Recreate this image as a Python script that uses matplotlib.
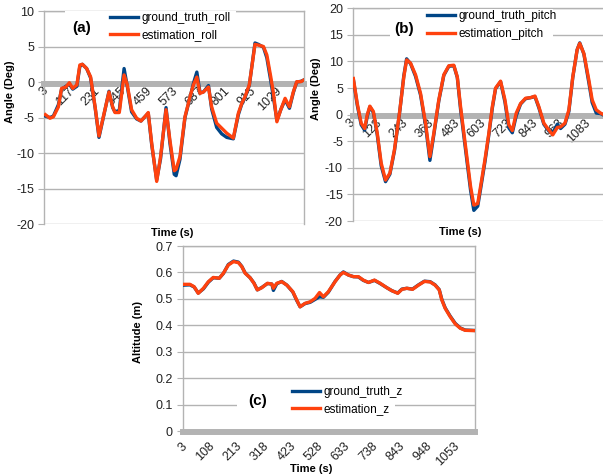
import matplotlib
matplotlib.use("Agg")
import matplotlib.pyplot as plt
from matplotlib.patches import Rectangle

plt.rcParams["font.family"] = ["Liberation Sans", "DejaVu Sans"]

BLUE = "#004586"
ORANGE = "#ff420e"
GRID = "#b3b3b3"

# ---- roll (a)
t_roll = [0, 20, 35, 57, 71, 90, 105, 120, 138, 151, 162, 181, 198, 218, 235, 254,
          279, 295, 305, 324, 345, 359, 378, 400, 419, 436, 451, 466, 488, 505, 529,
          546, 565, 573, 590, 612, 634, 649, 664, 678, 693, 715, 729, 751, 773, 795,
          824, 846, 861, 875, 894, 919, 934, 956, 971, 988, 1000, 1015, 1032, 1051,
          1070, 1087, 1102, 1120, 1134]
roll_est = [-4.6, -5.1, -4.9, -3.5, -0.9, -0.7, -0.1, -0.9, -0.4, 2.4, 2.5, 1.9, 0.75,
            -3.5, -7.6, -4.9, -1.4, -3.5, -4.3, -4.3, 1.0, -0.4, -3.9, -5.1, -5.5, -4.9,
            -4.3, -8.6, -14.0, -10.5, -3.9, -8.2, -12.5, -12.3, -10.5, -4.9, -2.1, -0.4,
            0.7, -1.6, -1.4, -0.7, -3.5, -5.8, -6.5, -7.2, -7.9, -4.4, -3.0, -2.1, -0.4,
            5.3, 5.2, 5.0, 3.8, 0.75, -1.6, -5.6, -3.9, -2.3, -3.5, -1.4, 0.05, 0.05, 0.3]
roll_gt = [-4.8, -5.0, -4.8, -3.2, -1.0, -0.6, -0.3, -1.0, -0.6, 2.2, 2.5, 1.9, 0.6,
           -3.6, -7.8, -5.0, -1.3, -3.6, -4.2, -4.0, 1.9, -0.6, -4.2, -5.2, -5.5, -4.9,
           -4.4, -8.8, -13.8, -10.8, -3.6, -8.6, -13.0, -13.2, -10.9, -5.0, -2.2, -0.2,
           1.4, -1.5, -1.4, -0.5, -3.8, -6.4, -7.3, -7.8, -8.0, -4.6, -3.1, -2.2, -0.5,
           5.5, 5.3, 4.9, 3.4, 0.2, -2.2, -5.4, -3.9, -2.5, -3.7, -1.5, 0.0, 0.1, 0.3]
roll_ticks = [3, 117, 231, 345, 459, 573, 687, 801, 915, 1029]

# ---- pitch (b)
t_pitch = [2, 20, 38, 54, 66, 78, 94, 112, 130, 150, 170, 191, 216, 234, 247, 265, 288,
           311, 334, 354, 372, 395, 418, 441, 464, 480, 495, 518, 541, 556, 574, 587,
           607, 625, 641, 656, 679, 699, 717, 733, 751, 771, 794, 817, 837, 855, 878,
           901, 919, 940, 955, 975, 993, 1011, 1031, 1043, 1062, 1085, 1100, 1119, 1139,
           1153]
pitch_est = [6.8, 2.1, -1.6, -2.6, 0.0, 1.6, 0.6, -3.5, -9.1, -12.3, -11.0, -6.6, 0.9,
             7.1, 10.3, 9.7, 7.5, 4.0, -1.6, -7.9, -3.5, 2.8, 7.5, 9.2, 9.3, 7.1, 1.5,
             -6.0, -13.5, -17.0, -16.7, -13.5, -8.5, -3.5, 1.5, 5.0, 6.3, 2.8, -1.9, -3.0,
             0.3, 2.1, 3.1, 3.2, 3.5, 1.5, -1.6, -2.9, -3.8, -2.4, -2.3, -1.6, 0.9, 7.1,
             12.2, 13.4, 11.5, 6.5, 2.8, 0.9, 0.3, 0.0]
pitch_gt = [6.6, 1.8, -1.9, -2.9, -0.3, 1.5, 0.4, -3.8, -9.6, -12.6, -11.2, -6.8, 0.8,
            7.3, 10.5, 9.6, 7.2, 3.7, -2.0, -8.6, -3.8, 2.6, 7.4, 9.1, 9.2, 7.0, 1.0,
            -6.6, -14.2, -18.0, -17.2, -14.0, -8.9, -3.8, 1.2, 4.9, 6.2, 2.4, -2.5, -3.4,
            -0.2, 2.0, 3.0, 3.2, 3.4, 1.3, -1.8, -3.1, -3.4, -1.8, -2.6, -1.8, 0.6, 7.0,
            12.2, 13.5, 11.4, 6.0, 2.3, 0.3, 0.2, -0.1]
pitch_ticks = [3, 123, 243, 363, 483, 603, 723, 843, 963, 1083]

# ---- altitude (c)
t_z = [0, 22, 38, 54, 74, 93, 112, 135, 151, 170, 190, 209, 222, 235, 254, 269, 282,
       299, 321, 338, 344, 357, 376, 396, 419, 434, 447, 466, 486, 505, 522, 537, 556,
       582, 601, 614, 634, 653, 672, 691, 711, 734, 756, 782, 801, 824, 840, 859, 881,
       904, 927, 949, 968, 984, 994, 1007, 1026, 1046, 1065, 1084, 1110, 1125]
z_est = [0.555, 0.555, 0.546, 0.521, 0.54, 0.565, 0.581, 0.578, 0.597, 0.628, 0.641,
         0.637, 0.622, 0.597, 0.58, 0.559, 0.534, 0.542, 0.559, 0.556, 0.54, 0.559,
         0.565, 0.552, 0.527, 0.496, 0.47, 0.483, 0.489, 0.502, 0.524, 0.508, 0.527,
         0.565, 0.59, 0.6, 0.59, 0.584, 0.584, 0.571, 0.562, 0.571, 0.559, 0.542, 0.531,
         0.521, 0.536, 0.54, 0.536, 0.552, 0.566, 0.564, 0.552, 0.534, 0.496, 0.464,
         0.433, 0.405, 0.389, 0.381, 0.38, 0.38]
z_gt = [0.552, 0.553, 0.545, 0.522, 0.538, 0.563, 0.58, 0.578, 0.596, 0.63, 0.643,
        0.639, 0.623, 0.598, 0.58, 0.56, 0.534, 0.543, 0.558, 0.556, 0.532, 0.557,
        0.566, 0.552, 0.526, 0.494, 0.47, 0.482, 0.487, 0.498, 0.508, 0.506, 0.525,
        0.566, 0.59, 0.602, 0.59, 0.584, 0.583, 0.57, 0.562, 0.57, 0.558, 0.542, 0.531,
        0.522, 0.537, 0.54, 0.537, 0.553, 0.567, 0.565, 0.553, 0.535, 0.498, 0.466,
        0.435, 0.407, 0.39, 0.382, 0.381, 0.38]
z_ticks = [3, 108, 213, 318, 423, 528, 633, 738, 843, 948, 1053]


def style_axes(ax, xlim, ylim, yticks, ylabels, xticks, spine_y, xpad=4):
    # move the x axis to y=0 first, it resets the ticks
    ax.spines["bottom"].set_position(("data", spine_y))
    ax.spines["bottom"].set_color(GRID)
    ax.spines["bottom"].set_linewidth(4.3)
    for side in ["left", "right", "top"]:
        ax.spines[side].set_color(GRID)
        ax.spines[side].set_linewidth(1)
    ax.set_xlim(*xlim)
    ax.set_ylim(*ylim)
    ax.set_yticks(yticks)
    ax.set_yticklabels(ylabels)
    ax.set_xticks(xticks)
    ax.set_xticklabels([str(v) for v in xticks])
    ax.yaxis.grid(True, color=GRID, linewidth=1)
    ax.set_axisbelow(True)
    ax.tick_params(axis="y", length=4, color=GRID, labelsize=9, pad=3, labelcolor="#222222")
    ax.tick_params(axis="x", length=0, labelsize=9, pad=xpad, labelcolor="#222222")
    for lab in ax.get_xticklabels():
        lab.set_rotation(45)
        lab.set_rotation_mode("anchor")
        lab.set_ha("right")
        lab.set_va("center")


def add_legend(ax, lines, labels, anchor, tag, tag_xy, box):
    ax.add_patch(Rectangle((box[0], box[1]), box[2], box[3], transform=ax.transAxes,
                           facecolor="white", edgecolor="none", zorder=4))
    ax.legend(lines, labels, loc="upper left", bbox_to_anchor=anchor, frameon=False,
              fontsize=8.5, handlelength=2.4, handletextpad=0.25, labelspacing=0.45,
              borderpad=0, borderaxespad=0).set_zorder(5)
    ax.text(tag_xy[0], tag_xy[1], tag, transform=ax.transAxes, fontsize=11,
            fontweight="bold", ha="center", va="center", zorder=6)


fig = plt.figure(figsize=(6.03, 4.75), dpi=100)

# (a)
ax1 = fig.add_axes([0.0730, 0.5284, 0.4312, 0.4484])
l1, = ax1.plot(t_roll, roll_gt, color=BLUE, linewidth=2.4, zorder=3)
l2, = ax1.plot(t_roll, roll_est, color=ORANGE, linewidth=2.4, zorder=3)
style_axes(ax1, (-6, 1134), (-20, 10), range(-20, 11, 5),
           [str(v) for v in range(-20, 11, 5)], roll_ticks, -0.25)
ax1.set_ylabel("Angle (Deg)", fontsize=8, fontweight="bold")
ax1.yaxis.set_label_coords(-0.1115, 0.62)
ax1.set_xlabel("Time (s)", fontsize=8, fontweight="bold")
ax1.xaxis.set_label_coords(0.492, -0.042)
ax1.xaxis.label.set_va("center")
add_legend(ax1, [l1, l2], ["ground_truth_roll", "estimation_roll"],
           (0.254, 0.996), "(a)", (0.145, 0.918), (0.08, 0.85, 0.66, 0.149))

# (b)
ax2 = fig.add_axes([0.5849, 0.5347, 0.418, 0.4478])
l3, = ax2.plot(t_pitch, pitch_gt, color=BLUE, linewidth=2.4, zorder=3)
l4, = ax2.plot(t_pitch, pitch_est, color=ORANGE, linewidth=2.4, zorder=3)
style_axes(ax2, (-1, 1158), (-20, 20), range(-20, 21, 5),
           [str(v) for v in range(-20, 21, 5)], pitch_ticks, -0.2)
ax2.set_ylabel("Angle (Deg)", fontsize=8, fontweight="bold")
ax2.yaxis.set_label_coords(-0.127, 0.62)
ax2.set_xlabel("Time (s)", fontsize=8, fontweight="bold")
ax2.xaxis.set_label_coords(0.426, -0.052)
ax2.xaxis.label.set_va("center")
add_legend(ax2, [l3, l4], ["ground_truth_pitch", "estimation_pitch"],
           (0.295, 0.99), "(b)", (0.204, 0.903), (0.148, 0.837, 0.647, 0.162))

# (c)
ax3 = fig.add_axes([0.303, 0.0926, 0.4847, 0.3895])
l5, = ax3.plot(t_z, z_gt, color=BLUE, linewidth=2.4, zorder=3)
l6, = ax3.plot(t_z, z_est, color=ORANGE, linewidth=2.4, zorder=3)
z_levels = [0, 0.1, 0.2, 0.3, 0.4, 0.5, 0.6, 0.7]
style_axes(ax3, (-6, 1122), (0, 0.7), z_levels,
           ["0", "0.1", "0.2", "0.3", "0.4", "0.5", "0.6", "0.7"], z_ticks, -0.004,
           xpad=9)
ax3.spines["bottom"].set_clip_on(False)
ax3.set_ylabel("Altitude (m)", fontsize=8, fontweight="bold")
ax3.yaxis.set_label_coords(-0.135, 0.537)
ax3.set_xlabel("Time (s)", fontsize=8, fontweight="bold")
ax3.xaxis.set_label_coords(0.441, -0.205)
ax3.xaxis.label.set_va("center")
add_legend(ax3, [l5, l6], ["ground_truth_z", "estimation_z"],
           (0.373, 0.242), "(c)", (0.255, 0.162), (0.186, 0.059, 0.541, 0.217))

fig.savefig("out.png", dpi=100)
